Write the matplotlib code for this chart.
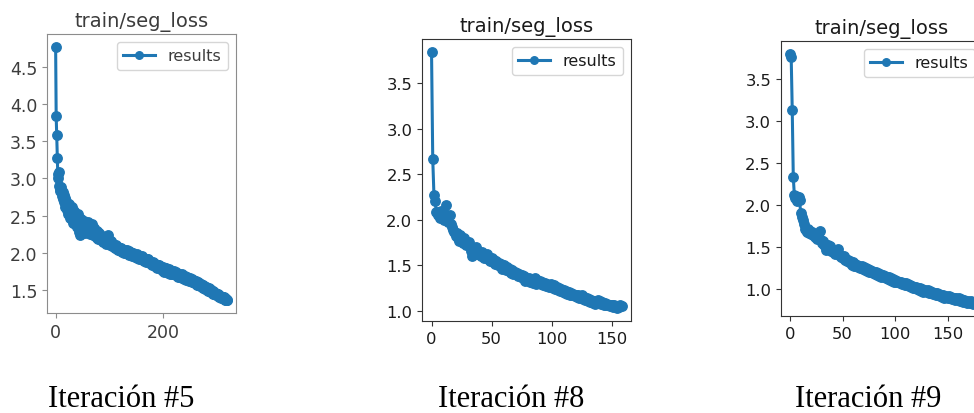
import numpy as np
import matplotlib.pyplot as plt

# seg_loss per epoch for the three training runs
loss_it5 = [
    4.77, 3.84, 3.58, 3.27, 3.06, 3.00, 3.08, 2.90, 2.86, 2.83,
    2.88, 2.80, 2.76, 2.82, 2.72, 2.78, 2.68, 2.74, 2.62, 2.70,
    2.66, 2.58, 2.64, 2.52, 2.60, 2.65, 2.55, 2.47, 2.58, 2.50,
    2.62, 2.45, 2.53, 2.40, 2.56, 2.48, 2.38, 2.50, 2.44, 2.35,
    2.46, 2.52, 2.40, 2.28, 2.43, 2.36, 2.24, 2.38, 2.45, 2.33,
    2.40, 2.30, 2.42, 2.36, 2.27, 2.34, 2.40, 2.31, 2.37, 2.28,
    2.35, 2.41, 2.30, 2.25, 2.36, 2.32, 2.27, 2.38, 2.29, 2.24,
    2.31, 2.26, 2.33, 2.22, 2.28, 2.25, 2.20, 2.29, 2.23, 2.19,
    2.26, 2.21, 2.24, 2.18, 2.22, 2.17, 2.23, 2.19, 2.15, 2.21,
    2.18, 2.14, 2.20, 2.16, 2.12, 2.19, 2.15, 2.24, 2.13, 2.17,
    2.14, 2.11, 2.16, 2.12, 2.09, 2.13, 2.10, 2.12, 2.08, 2.11,
    2.09, 2.06, 2.10, 2.07, 2.05, 2.08, 2.04, 2.07, 2.03, 2.06,
    2.05, 2.02, 2.06, 2.03, 2.01, 2.04, 2.02, 2.00, 2.03, 2.01,
    2.02, 1.99, 2.01, 2.03, 1.98, 2.00, 2.02, 1.97, 1.99, 2.01,
    1.99, 1.96, 2.00, 1.97, 1.99, 1.95, 1.98, 1.96, 1.94, 1.97,
    1.96, 1.98, 1.93, 1.96, 1.94, 1.92, 1.95, 1.93, 1.91, 1.94,
    1.93, 1.95, 1.90, 1.93, 1.91, 1.89, 1.92, 1.90, 1.88, 1.91,
    1.90, 1.88, 1.91, 1.87, 1.89, 1.86, 1.88, 1.85, 1.87, 1.84,
    1.87, 1.85, 1.83, 1.86, 1.82, 1.85, 1.81, 1.84, 1.80, 1.83,
    1.84, 1.81, 1.83, 1.79, 1.82, 1.78, 1.81, 1.77, 1.80, 1.76,
    1.81, 1.78, 1.74, 1.79, 1.76, 1.80, 1.75, 1.77, 1.73, 1.76,
    1.78, 1.74, 1.77, 1.72, 1.75, 1.73, 1.76, 1.71, 1.74, 1.72,
    1.75, 1.71, 1.73, 1.70, 1.74, 1.69, 1.72, 1.70, 1.68, 1.71,
    1.72, 1.68, 1.70, 1.67, 1.71, 1.66, 1.69, 1.67, 1.65, 1.68,
    1.69, 1.65, 1.68, 1.64, 1.67, 1.63, 1.66, 1.64, 1.62, 1.65,
    1.66, 1.62, 1.64, 1.61, 1.65, 1.60, 1.63, 1.61, 1.59, 1.62,
    1.62, 1.58, 1.61, 1.57, 1.60, 1.56, 1.59, 1.57, 1.55, 1.58,
    1.58, 1.54, 1.57, 1.53, 1.56, 1.52, 1.55, 1.53, 1.51, 1.54,
    1.54, 1.50, 1.53, 1.49, 1.52, 1.48, 1.51, 1.49, 1.47, 1.50,
    1.49, 1.46, 1.48, 1.45, 1.47, 1.44, 1.46, 1.44, 1.43, 1.45,
    1.45, 1.42, 1.44, 1.41, 1.43, 1.40, 1.42, 1.41, 1.39, 1.41,
    1.41, 1.39, 1.40, 1.38, 1.39, 1.37, 1.38, 1.37, 1.36, 1.37,
]

loss_it8 = [
    3.84, 2.67, 2.27, 2.20, 2.09, 2.05, 2.08, 2.02, 2.10, 2.04,
    2.00, 2.06, 2.16, 2.03, 1.98, 2.05, 1.95, 1.92, 1.89, 1.86,
    1.82, 1.85, 1.80, 1.77, 1.83, 1.78, 1.74, 1.80, 1.76, 1.72,
    1.75, 1.76, 1.70, 1.66, 1.60, 1.68, 1.64, 1.70, 1.62, 1.66,
    1.63, 1.60, 1.65, 1.61, 1.58, 1.60, 1.62, 1.57, 1.59, 1.55,
    1.58, 1.54, 1.56, 1.52, 1.55, 1.50, 1.53, 1.49, 1.51, 1.46,
    1.50, 1.47, 1.45, 1.48, 1.44, 1.46, 1.42, 1.45, 1.41, 1.43,
    1.40, 1.42, 1.38, 1.41, 1.37, 1.39, 1.36, 1.38, 1.33, 1.35,
    1.34, 1.36, 1.32, 1.35, 1.31, 1.33, 1.36, 1.30, 1.34, 1.31,
    1.33, 1.29, 1.32, 1.28, 1.31, 1.27, 1.30, 1.28, 1.26, 1.29,
    1.27, 1.25, 1.28, 1.24, 1.26, 1.23, 1.25, 1.22, 1.24, 1.21,
    1.23, 1.20, 1.22, 1.19, 1.21, 1.18, 1.20, 1.17, 1.19, 1.16,
    1.18, 1.15, 1.17, 1.14, 1.16, 1.18, 1.13, 1.15, 1.12, 1.14,
    1.11, 1.13, 1.10, 1.12, 1.09, 1.11, 1.08, 1.10, 1.12, 1.09,
    1.11, 1.08, 1.10, 1.07, 1.09, 1.06, 1.08, 1.07, 1.05, 1.07,
    1.06, 1.04, 1.06, 1.05, 1.03, 1.05, 1.04, 1.06, 1.05,
]

loss_it9 = [
    3.80, 3.76, 3.13, 2.33, 2.12, 2.08, 2.11, 2.05, 2.09, 2.06,
    1.91, 1.86, 1.82, 1.78, 1.72, 1.70, 1.68, 1.71, 1.67, 1.69,
    1.66, 1.68, 1.64, 1.65, 1.62, 1.66, 1.60, 1.63, 1.69, 1.58,
    1.55, 1.57, 1.52, 1.54, 1.46, 1.50, 1.53, 1.48, 1.51, 1.45,
    1.47, 1.44, 1.46, 1.42, 1.45, 1.43, 1.48, 1.41, 1.38, 1.40,
    1.37, 1.39, 1.35, 1.36, 1.33, 1.35, 1.32, 1.34, 1.31, 1.29,
    1.32, 1.28, 1.30, 1.27, 1.29, 1.26, 1.28, 1.25, 1.27, 1.24,
    1.26, 1.23, 1.25, 1.22, 1.24, 1.21, 1.23, 1.20, 1.22, 1.19,
    1.21, 1.18, 1.20, 1.17, 1.19, 1.16, 1.18, 1.15, 1.17, 1.14,
    1.16, 1.13, 1.15, 1.12, 1.14, 1.11, 1.13, 1.10, 1.12, 1.09,
    1.11, 1.09, 1.10, 1.08, 1.09, 1.07, 1.08, 1.06, 1.07, 1.05,
    1.07, 1.05, 1.06, 1.04, 1.05, 1.03, 1.04, 1.02, 1.03, 1.01,
    1.03, 1.00, 1.02, 0.99, 1.01, 0.98, 1.00, 0.97, 0.99, 0.98,
    0.97, 0.99, 0.96, 0.98, 0.95, 0.97, 0.94, 0.96, 0.95, 0.93,
    0.95, 0.93, 0.94, 0.92, 0.93, 0.91, 0.93, 0.90, 0.92, 0.91,
    0.90, 0.92, 0.89, 0.91, 0.88, 0.90, 0.89, 0.87, 0.89, 0.88,
    0.87, 0.89, 0.86, 0.88, 0.87, 0.85, 0.87, 0.86, 0.84, 0.86,
    0.85, 0.84, 0.86, 0.84, 0.83, 0.84,
]

xticks_it5 = [0, 200]
yticks_it5 = [1.5, 2.0, 2.5, 3.0, 3.5, 4.0, 4.5]
xticks_it8 = [0, 50, 100, 150]
yticks_it8 = [1.0, 1.5, 2.0, 2.5, 3.0, 3.5]
xticks_it9 = [0, 50, 100, 150]
yticks_it9 = [1.0, 1.5, 2.0, 2.5, 3.0, 3.5]
captions = ['Iteración #5', 'Iteración #8', 'Iteración #9']

BLUE = '#1f77b4'


def panel(fig, rect, loss, xticks, yticks, edge, ink, fsize):
    ax = fig.add_axes(rect)
    ax.plot(np.arange(len(loss)), loss, marker='o', color=BLUE,
            lw=2.2, ms=6.8, label='results')
    ax.set_xticks(xticks)
    ax.set_yticks(yticks)
    ax.set_title('train/seg_loss', fontsize=14, color=ink)
    ax.tick_params(labelsize=fsize, colors=edge, labelcolor=ink)
    for s in ax.spines.values():
        s.set_color(edge)
    leg = ax.legend(loc='upper right', fontsize=11.5, markerscale=0.8)
    for t in leg.get_texts():
        t.set_color(ink)
    return ax


fig = plt.figure(figsize=(9.74, 4.14), dpi=100)

panel(fig, [0.0483, 0.2415, 0.194, 0.674], loss_it5,
      xticks_it5, yticks_it5, '#8c8c8c', '#3c3c3c', 12.5)
panel(fig, [0.4333, 0.2222, 0.2146, 0.681], loss_it8,
      xticks_it8, yticks_it8, '#333333', '#1a1a1a', 11.8)
# last panel runs past the right edge of the figure
panel(fig, [0.8018, 0.2343, 0.2075, 0.664], loss_it9,
      xticks_it9, yticks_it9, '#333333', '#1a1a1a', 11.8)

for xc, txt in zip([0.124, 0.525, 0.891], captions):
    fig.text(xc, 0.017, txt, ha='center', va='baseline',
             family='Liberation Serif', fontsize=22)

fig.savefig('out.png', dpi=100)
